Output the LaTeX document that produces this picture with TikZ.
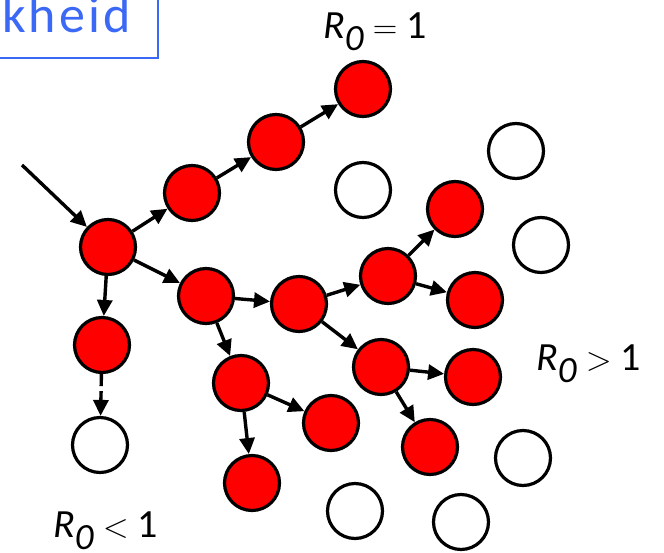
\documentclass[tikz,border=0pt]{standalone}
\usepackage{fontspec}
\setmainfont{Carlito}
\newfontfamily\lmfont{Latin Modern Roman}
\usetikzlibrary{arrows.meta}
\definecolor{boxblue}{RGB}{59,104,245}
\newcommand{\Rnul}{\textit{R}\raisebox{-0.3em}{\fontsize{37}{37}\selectfont\textit{0}}}
\newcommand{\bigsym}[1]{{\lmfont\fontsize{34}{34}\selectfont #1}}
\tikzset{
  case/.style={circle, draw=black, line width=3.2pt, minimum size=55pt, inner sep=0pt},
  sick/.style={case, fill=red},
  healthy/.style={case, fill=white},
  spread/.style={-{Triangle[length=16pt,width=15pt]}, line width=3.4pt},
  rlabel/.style={anchor=base west, inner sep=0pt, font=\fontsize{40}{40}\selectfont}
}
\begin{document}
\begin{tikzpicture}[x=1pt,y=-1pt]
  \useasboundingbox (0,0) rectangle (664,552);
  % Title box, cut off at the edge
  \draw[boxblue, line width=2pt] (-10,-10) rectangle (158,58);
  \node[anchor=base east, inner sep=0pt, text=boxblue, font=\fontsize{52}{52}\selectfont\addfontfeature{LetterSpace=6}] (title) at (131,32) {kheid};
  % Infected chain
  \node[sick] (a) at (108,247) {};
  \node[sick] (b) at (192,193) {};
  \node[sick] (c) at (276,142) {};
  \node[sick] (d) at (363,89) {};
  \node[sick] (e) at (102,345) {};
  \node[healthy] (f) at (100,445) {};
  \node[sick] (g) at (206,296) {};
  \node[sick] (h) at (299,304) {};
  \node[sick] (i) at (388,276) {};
  \node[sick] (j) at (455,209) {};
  \node[sick] (k) at (475,300) {};
  \node[sick] (l) at (381,367) {};
  \node[sick] (m) at (473,377) {};
  \node[sick] (n) at (430,447) {};
  \node[sick] (o) at (241,383) {};
  \node[sick] (p) at (331,423) {};
  \node[sick] (q) at (252,483) {};
  % Not infected
  \node[healthy] (w1) at (363,190) {};
  \node[healthy] (w2) at (516,151) {};
  \node[healthy] (w3) at (541,245) {};
  \node[healthy] (w4) at (523,458) {};
  \node[healthy] (w5) at (355,511) {};
  \node[healthy] (w6) at (461,522) {};
  % Transmissions
  \coordinate (src) at (22,165);
  \draw[spread] (src) -- (a);
  \draw[spread] (a) -- (b);
  \draw[spread] (b) -- (c);
  \draw[spread] (c) -- (d);
  \draw[spread] (a) -- (e);
  \draw[spread, dash pattern=on 12pt off 5pt] (e) -- (f);
  \draw[spread] (a) -- (g);
  \draw[spread] (g) -- (h);
  \draw[spread] (h) -- (i);
  \draw[spread] (i) -- (j);
  \draw[spread] (i) -- (k);
  \draw[spread] (h) -- (l);
  \draw[spread] (l) -- (m);
  \draw[spread] (l) -- (n);
  \draw[spread] (g) -- (o);
  \draw[spread] (o) -- (p);
  \draw[spread] (o) -- (q);
  % Labels
  \node[rlabel] (r1) at (323,38) {\Rnul{} \bigsym{=} 1};
  \node[rlabel] (r2) at (536,370) {\Rnul{} \bigsym{>} 1};
  \node[rlabel] (r3) at (53,537) {\Rnul{} \bigsym{<} 1};
\end{tikzpicture}
\end{document}
